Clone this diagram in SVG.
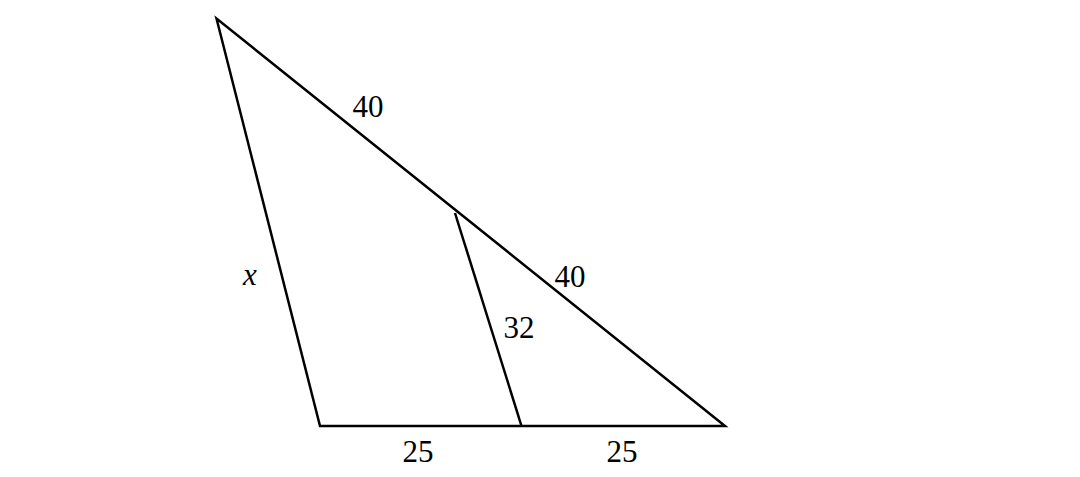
<svg xmlns="http://www.w3.org/2000/svg" width="1080" height="477" viewBox="0 0 1080 477">
<style>
.ln{stroke:#000;stroke-width:2.5;fill:none;stroke-linecap:butt;stroke-linejoin:miter}
.lb{font-family:'Liberation Serif','Times New Roman',serif;font-size:31px;fill:#000;text-anchor:middle}
.it{font-style:italic}
</style>
<rect width="1080" height="477" fill="#fff"/>
<g id="connectors">
<polygon class="ln" points="216.5,18.5 320,426 725,426"/>
<line class="ln" x1="455" y1="213" x2="521.5" y2="426"/>
</g>
<g id="labels">
<text class="lb" x="368" y="117">40</text>
<text class="lb" x="570" y="287">40</text>
<text class="lb" x="519" y="338">32</text>
<text class="lb it" x="250" y="285">x</text>
<text class="lb" x="418" y="462">25</text>
<text class="lb" x="622" y="462">25</text>
</g>
</svg>
